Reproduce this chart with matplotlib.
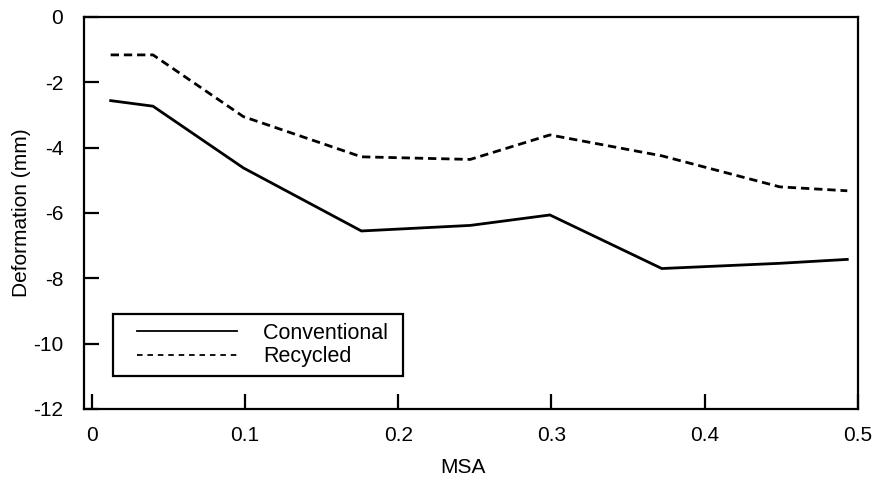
import matplotlib
matplotlib.use("Agg")
import matplotlib.pyplot as plt
from matplotlib.lines import Line2D
from matplotlib.legend_handler import HandlerLine2D

plt.rcParams['font.family'] = ['Liberation Sans', 'DejaVu Sans']
plt.rcParams['lines.scale_dashes'] = False
plt.rcParams['axes.unicode_minus'] = False

# MSA values and deformation (mm) for both mixes
msa = [0.0124, 0.040, 0.099, 0.176, 0.247, 0.299, 0.372, 0.449, 0.493]
conventional = [-2.56, -2.73, -4.62, -6.55, -6.38, -6.06, -7.70, -7.54, -7.42]
recycled = [-1.16, -1.16, -3.05, -4.28, -4.36, -3.61, -4.25, -5.20, -5.32]

x_ticks = [0, 0.1, 0.2, 0.3, 0.4, 0.5]
x_labels = ['0', '0.1', '0.2', '0.3', '0.4', '0.5']
y_ticks = [0, -2, -4, -6, -8, -10, -12]

fig = plt.figure(figsize=(8.81, 4.78), dpi=100)
ax = fig.add_axes([84 / 881, 1 - 409 / 478, 774 / 881, 392 / 478])

ax.plot(msa, conventional, color='black', lw=2.0, solid_joinstyle='miter')
ax.plot(msa, recycled, color='black', lw=2.0, dashes=(6, 3.5))

ax.set_xlim(-0.005, 0.5)
ax.set_ylim(-12, 0)
ax.set_xticks(x_ticks)
ax.set_xticklabels(x_labels)
ax.set_yticks(y_ticks)
ax.tick_params(direction='in', length=11, width=1.6, labelsize=15, color='black')
ax.tick_params(axis='y', pad=15)
ax.tick_params(axis='x', pad=12)
for s in ax.spines.values():
    s.set_linewidth(1.6)

ax.set_xlabel('MSA', fontsize=15)
ax.set_ylabel('Deformation (mm)', fontsize=15)
ax.xaxis.set_label_coords(0.49, -0.125)
ax.yaxis.set_label_coords(-0.068, 0.5)

# legend lines are inset from the frame, so pad them on the left
handles = [Line2D([], [], color='black', lw=1.3),
           Line2D([], [], color='black', lw=1.3, dashes=(4, 3.5))]
leg = ax.legend(handles, ['Conventional ', 'Recycled'], loc='lower left',
                bbox_to_anchor=(0.037, 0.084), fontsize=15.5, frameon=True,
                fancybox=False, framealpha=1, handlelength=5.4,
                handletextpad=1.2, borderpad=0.4, labelspacing=0.12,
                borderaxespad=0,
                handler_map={Line2D: HandlerLine2D(xpad=0.72)})
leg.get_frame().set_edgecolor('black')
leg.get_frame().set_linewidth(1.6)

fig.savefig('out.png', dpi=100)
